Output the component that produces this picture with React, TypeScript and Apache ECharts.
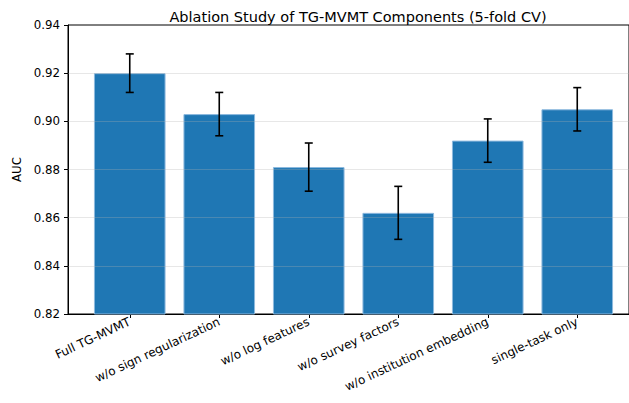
import React, { useEffect, useRef } from "react";
import * as echarts from "echarts";

const categories = [
  "Full TG-MVMT",
  "w/o sign regularization",
  "w/o log features",
  "w/o survey factors",
  "w/o institution embedding",
  "single-task only",
];
const aucMeans = [0.92, 0.903, 0.881, 0.862, 0.892, 0.905];
const aucStd = [0.008, 0.009, 0.01, 0.011, 0.009, 0.009];
const yTicks = [0.82, 0.84, 0.86, 0.88, 0.9, 0.92, 0.94];

const FONT = "DejaVu Sans";

export default function App() {
  const ref = useRef<HTMLDivElement>(null);
  useEffect(() => {
    if (!ref.current) return;
    const chart = echarts.init(ref.current, null, { renderer: "svg" });
    const yMin = yTicks[0];
    const yMax = yTicks[yTicks.length - 1];
    const errData = aucMeans.map((m, i) => [i, m - aucStd[i], m + aucStd[i]]);
    const gridVals = yTicks.slice(1, -1);
    chart.setOption({
      animation: false,
      backgroundColor: "#fff",
      textStyle: { fontFamily: FONT },
      title: {
        text: "Ablation Study of TG-MVMT Components (5-fold CV)",
        left: 353,
        top: 4,
        textAlign: "center",
        textStyle: { fontFamily: FONT, fontSize: 14.5, fontWeight: "normal", color: "#000" },
      },
      grid: [
        { left: 68, right: -10, top: 25, bottom: 89, show: true, borderColor: "#000", borderWidth: 1, backgroundColor: "transparent" },
        { left: 85, right: 7, top: 25, bottom: 89 },
      ],
      xAxis: [
        {
          type: "value",
          gridIndex: 0,
          min: 0,
          max: 1,
          axisLine: { show: true, lineStyle: { color: "#000", width: 1 } },
          axisTick: { show: false },
          axisLabel: { show: false },
          splitLine: { show: false },
        },
        {
          type: "category",
          gridIndex: 1,
          data: categories,
          axisLine: { show: false },
          axisTick: { show: true, alignWithLabel: true, length: 4, lineStyle: { color: "#000", width: 1 } },
          axisLabel: { rotate: 25, fontSize: 12, margin: 7, color: "#000", fontFamily: FONT, interval: 0 },
        },
      ],
      yAxis: [
        {
          type: "value",
          gridIndex: 0,
          min: yMin,
          max: yMax,
          interval: 0.02,
          name: "AUC",
          nameLocation: "middle",
          nameGap: 44,
          nameTextStyle: { fontFamily: FONT, fontSize: 11.8, color: "#000" },
          axisLine: { show: true, lineStyle: { color: "#000", width: 1 } },
          axisTick: { show: true, length: 4, lineStyle: { color: "#000", width: 1 } },
          axisLabel: { fontSize: 11.8, margin: 8, color: "#000", fontFamily: FONT, formatter: (v: number) => v.toFixed(2) },
          splitLine: { show: false },
        },
        {
          type: "value",
          gridIndex: 1,
          min: yMin,
          max: yMax,
          show: false,
          splitLine: { show: false },
        },
      ],
      series: [
        {
          type: "bar",
          xAxisIndex: 1,
          yAxisIndex: 1,
          data: aucMeans,
          barWidth: "80%",
          itemStyle: { color: "#1f77b4", borderColor: "#8db9de", borderWidth: 1 },
          z: 2,
        },
        {
          type: "line",
          xAxisIndex: 0,
          yAxisIndex: 0,
          data: [[0, yMin]],
          showSymbol: false,
          symbol: "none",
          lineStyle: { opacity: 0 },
          z: 5,
          silent: true,
          markLine: {
            silent: true,
            symbol: "none",
            label: { show: false },
            lineStyle: { color: "rgba(176,176,176,0.3)", type: "solid", width: 1 },
            data: gridVals.map((v) => ({ yAxis: v })),
          },
        },
        {
          type: "custom",
          xAxisIndex: 1,
          yAxisIndex: 1,
          z: 10,
          data: errData,
          renderItem: (params: any, api: any) => {
            const x = api.value(0);
            const lo = api.coord([x, api.value(1)]);
            const hi = api.coord([x, api.value(2)]);
            const cap = 4;
            const style = { stroke: "#000", lineWidth: 1.6 };
            return {
              type: "group",
              children: [
                { type: "line", shape: { x1: lo[0], y1: lo[1], x2: hi[0], y2: hi[1] }, style },
                { type: "line", shape: { x1: hi[0] - cap, y1: hi[1], x2: hi[0] + cap, y2: hi[1] }, style },
                { type: "line", shape: { x1: lo[0] - cap, y1: lo[1], x2: lo[0] + cap, y2: lo[1] }, style },
              ],
            };
          },
        },
      ],
    });
    return () => chart.dispose();
  }, []);
  return (
    <div
      ref={ref}
      style={{ position: "fixed", left: 0, top: 0, width: 629, height: 403 }}
    />
  );
}
